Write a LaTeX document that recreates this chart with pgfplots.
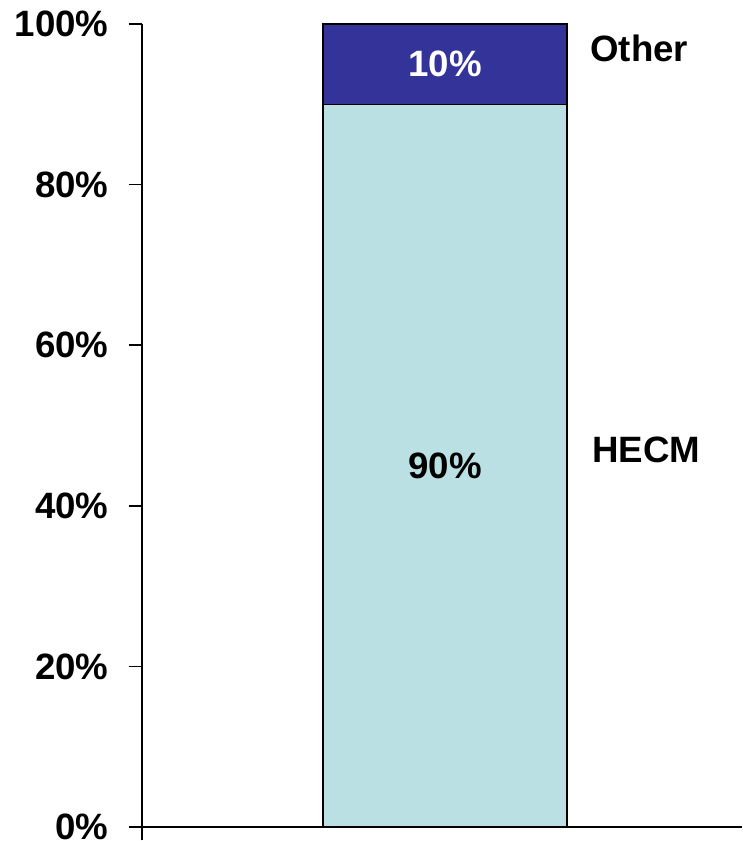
\documentclass[border=0pt]{standalone}
\usepackage{pgfplots}
\pgfplotsset{compat=1.18}
\usepackage{fontspec}
\setmainfont{Liberation Sans}
\definecolor{hecm}{RGB}{187,224,227}
\definecolor{other}{RGB}{51,51,153}
\tikzset{lbl/.style={font=\bfseries\fontsize{27.5}{30}\selectfont}}
\begin{document}
\begin{tikzpicture}
\begin{axis}[
  name=ax,
  scale only axis, width=450pt, height=602.25pt,
  xmin=0, xmax=600, ymin=0, ymax=100,
  axis x line*=bottom, axis y line*=left,
  axis line style={black, line width=1.1pt},
  xtick={0}, xticklabels={},
  ytick={0,20,...,100},
  yticklabel={\pgfmathprintnumber{\tick}\%},
  /pgf/number format/assume math mode=true,
  tick align=outside, major tick length=10pt,
  tick style={black, line width=1.1pt},
  yticklabel style={lbl, inner sep=0pt, xshift=-15pt},
  ybar stacked, bar width=183pt,
  clip=false,
]
\addplot[fill=hecm, draw=black, line width=0.8pt] coordinates {(303,90)};
\addplot[fill=other, draw=black, line width=0.8pt] coordinates {(303,10)};
% segment centres and series names
\coordinate (p90) at (axis cs:303,45);
\coordinate (p10) at (axis cs:303,95);
\coordinate (nOther) at (axis cs:448,97);
\coordinate (nHECM) at (axis cs:450,47);
\end{axis}
\node[lbl] at (p90) {90\%};
\node[lbl, text=white] at (p10) {10\%};
\node[lbl, anchor=west, inner sep=0pt] at (nOther) {Other};
\node[lbl, anchor=west, inner sep=0pt] at (nHECM) {HECM};
\pgfresetboundingbox
\useasboundingbox ([xshift=-106.5pt, yshift=-10.5pt]ax.south west) rectangle ++(556.5pt,630.75pt);
\end{tikzpicture}
\end{document}
